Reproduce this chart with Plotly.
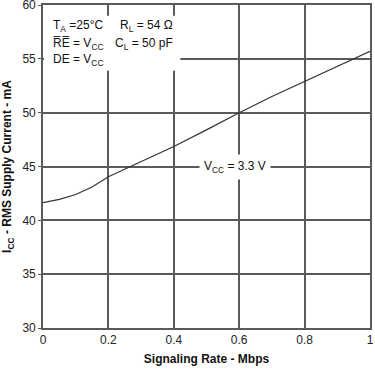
import plotly.graph_objects as go

# Data
rate_mbps = [0.0, 0.05, 0.1, 0.15, 0.2, 0.25, 0.3, 0.4, 0.5, 0.6, 0.7, 0.8, 0.9, 1.0]
icc_ma = [41.65, 41.95, 42.4, 43.1, 44.05, 44.75, 45.45, 46.85, 48.4, 50.0, 51.5, 52.9, 54.3, 55.7]
x_ticks = [0, 0.2, 0.4, 0.6, 0.8, 1]
x_tick_labels = ["0", "0.2", "0.4", "0.6", "0.8", "1"]
y_ticks = [30, 35, 40, 45, 50, 55, 60]
y_tick_labels = ["30", "35", "40", "45", "50", "55", "60"]

FONT = "Liberation Sans, Arial, sans-serif"
GRID = "#5a5a5a"

fig = go.Figure()
fig.add_trace(go.Scatter(x=rate_mbps, y=icc_ma, mode="lines",
                         line=dict(color="#333333", width=1.2),
                         showlegend=False, hoverinfo="skip"))

fig.update_layout(
    width=375, height=377,
    margin=dict(l=43, r=5, t=5, b=49),
    paper_bgcolor="white", plot_bgcolor="white",
    font=dict(family=FONT, size=12, color="#222222"),
    xaxis=dict(range=[0, 1], tickvals=x_ticks, ticktext=x_tick_labels,
               automargin=False, ticklabeloverflow="allow",
               showgrid=True, gridcolor=GRID, gridwidth=1.6,
               showline=True, linecolor=GRID, linewidth=1.6, mirror=True,
               ticks="", zeroline=False,
               title=dict(text="<b>Signaling Rate - Mbps</b>", font=dict(size=12, color="#111111"), standoff=8)),
    yaxis=dict(range=[30, 60], tickvals=y_ticks, ticktext=y_tick_labels,
               automargin=False, ticklabeloverflow="allow",
               showgrid=True, gridcolor=GRID, gridwidth=1.6,
               showline=True, linecolor=GRID, linewidth=1.6, mirror=True,
               ticks="outside", ticklen=3, tickcolor=GRID, zeroline=False,
               title=dict(text="<b>I<sub>CC</sub> - RMS Supply Current - mA</b>", font=dict(size=12, color="#111111"), standoff=9)),
)

# white boxes covering the grid behind the labels
fig.add_shape(type="rect", xref="x", yref="y", x0=0.003, x1=0.42, y0=53.9, y1=59.0,
              fillcolor="white", line=dict(width=0), layer="between")

ann = dict(xref="x", yref="y", showarrow=False, xanchor="left", yanchor="middle",
           font=dict(family=FONT, size=12, color="#111111"))
fig.add_annotation(x=0.025, y=58.05, text="T<sub>A</sub> =25°C", **ann)
fig.add_annotation(x=0.228, y=58.05, text="R<sub>L</sub> = 54 Ω", **ann)
fig.add_annotation(x=0.025, y=56.35, text="R\u0305E\u0305 = V<sub>CC</sub>", **ann)
fig.add_annotation(x=0.213, y=56.35, text="C<sub>L</sub> = 50 pF", **ann)
fig.add_annotation(x=0.025, y=54.85, text="DE = V<sub>CC</sub>", **ann)

fig.add_annotation(x=0.587, y=45.0, xref="x", yref="y", showarrow=False,
                   text="V<sub>CC</sub> = 3.3 V", bgcolor="white", borderpad=4,
                   font=dict(family=FONT, size=12, color="#111111"))

fig.write_html("out.html", config={"displayModeBar": False},
               post_script="document.body.style.margin='0';document.body.style.overflow='hidden';")
